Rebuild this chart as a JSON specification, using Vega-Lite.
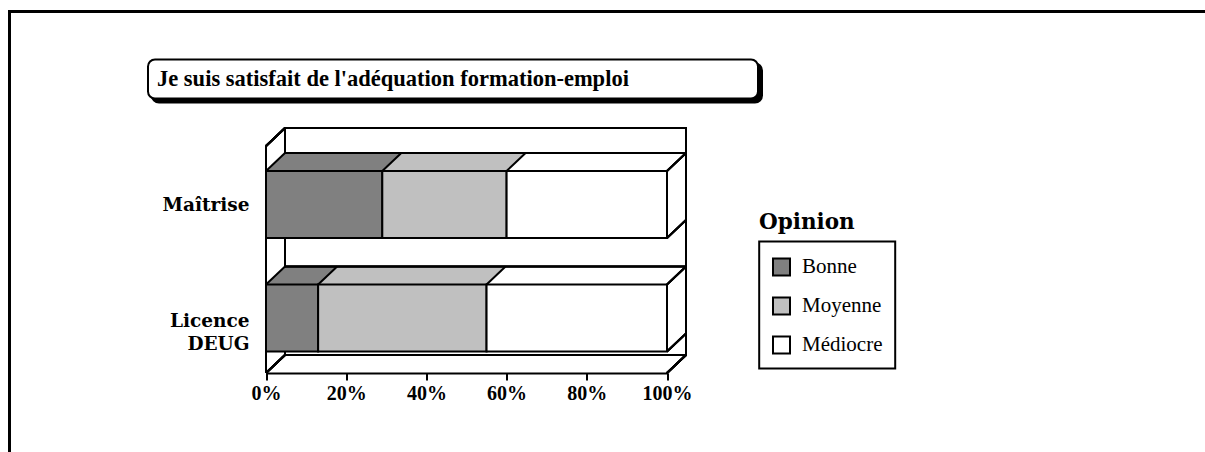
{
 "$schema": "https://vega.github.io/schema/vega-lite/v6.json",
 "autosize": "none",
 "padding": {"left": 9.5, "top": 11.5, "right": 0, "bottom": 0},
 "width": 1195.5,
 "height": 440.5,
 "background": "white",
 "title": {"text": "Je suis satisfait de l'adéquation formation-emploi", "anchor": "start", "frame": "group", "orient": "top", "offset": 0, "baseline": "alphabetic", "dx": 147.5, "dy": 96.8, "font": "Liberation Serif", "fontSize": 22.5, "fontWeight": "bold", "color": "black", "zindex": 3},
 "config": {
  "view": {"stroke": "black", "strokeWidth": 3, "strokeDash": [1636, 1636], "strokeDashOffset": 440.5, "fill": "white"},
  "legend": {"strokeWidth": 2},
  "axis": {"grid": false}
 },
 "data": {"values": [
  {"niveau": "Maîtrise", "opinion": "Bonne", "pct": 29},
  {"niveau": "Maîtrise", "opinion": "Moyenne", "pct": 31},
  {"niveau": "Maîtrise", "opinion": "Médiocre", "pct": 40},
  {"niveau": "Licence DEUG", "opinion": "Bonne", "pct": 13},
  {"niveau": "Licence DEUG", "opinion": "Moyenne", "pct": 42},
  {"niveau": "Licence DEUG", "opinion": "Médiocre", "pct": 45}
 ]},
 "transform": [{"stack": "pct", "groupby": ["niveau"], "sort": [{"field": "opinion", "order": "ascending"}], "offset": "normalize", "as": ["x0", "x1"]}],
 "layer": [
  {"mark": {"type": "rect", "fill": "transparent", "stroke": "black", "strokeWidth": 2, "xOffset": 19, "x2Offset": 19, "yOffset": -18, "y2Offset": -18},
   "encoding": {"x": {"datum": 0, "type": "quantitative"}, "x2": {"datum": 1}, "y": {"datum": "Maîtrise", "type": "nominal", "bandPosition": -0.3731}, "y2": {"datum": "Licence DEUG", "bandPosition": 1.3209}}},
  {"mark": {"type": "rule", "color": "black", "strokeWidth": 2, "x2Offset": 19, "y2Offset": -18},
   "encoding": {"x": {"datum": 0, "type": "quantitative"}, "x2": {"datum": 0}, "y": {"datum": "Maîtrise", "type": "nominal", "bandPosition": -0.3731}, "y2": {"datum": "Maîtrise", "bandPosition": -0.3731}}},
  {"mark": {"type": "rule", "color": "black", "strokeWidth": 2},
   "encoding": {"x": {"datum": 0, "type": "quantitative"}, "y": {"datum": "Maîtrise", "type": "nominal", "bandPosition": -0.3731}, "y2": {"datum": "Licence DEUG", "bandPosition": 1.3209}}},
  {"mark": {"type": "rule", "color": "black", "strokeWidth": 2, "x2Offset": 19, "y2Offset": -18},
   "encoding": {"x": {"datum": 0, "type": "quantitative"}, "x2": {"datum": 0}, "y": {"datum": "Licence DEUG", "type": "nominal", "bandPosition": 1.3209}, "y2": {"datum": "Licence DEUG", "bandPosition": 1.3209}}},
  {"mark": {"type": "rule", "color": "black", "strokeWidth": 2, "x2Offset": 19, "y2Offset": -18},
   "encoding": {"x": {"datum": 1, "type": "quantitative"}, "x2": {"datum": 1}, "y": {"datum": "Licence DEUG", "type": "nominal", "bandPosition": 1.3209}, "y2": {"datum": "Licence DEUG", "bandPosition": 1.3209}}},
  {"mark": {"type": "rect", "xOffset": 19, "x2Offset": 19, "yOffset": -18, "y2Offset": -18}, "encoding": {"x": {"field": "x0", "type": "quantitative"}, "x2": {"field": "x1"}, "y": {"field": "niveau", "type": "nominal"}, "color": {"field": "opinion", "type": "nominal"}}},
  {"mark": {"type": "rect", "xOffset": 18, "x2Offset": 18, "yOffset": -17.05, "y2Offset": -17.05}, "encoding": {"x": {"field": "x0", "type": "quantitative"}, "x2": {"field": "x1"}, "y": {"field": "niveau", "type": "nominal"}, "color": {"field": "opinion", "type": "nominal"}}},
  {"mark": {"type": "rect", "xOffset": 17, "x2Offset": 17, "yOffset": -16.11, "y2Offset": -16.11}, "encoding": {"x": {"field": "x0", "type": "quantitative"}, "x2": {"field": "x1"}, "y": {"field": "niveau", "type": "nominal"}, "color": {"field": "opinion", "type": "nominal"}}},
  {"mark": {"type": "rect", "xOffset": 16, "x2Offset": 16, "yOffset": -15.16, "y2Offset": -15.16}, "encoding": {"x": {"field": "x0", "type": "quantitative"}, "x2": {"field": "x1"}, "y": {"field": "niveau", "type": "nominal"}, "color": {"field": "opinion", "type": "nominal"}}},
  {"mark": {"type": "rect", "xOffset": 15, "x2Offset": 15, "yOffset": -14.21, "y2Offset": -14.21}, "encoding": {"x": {"field": "x0", "type": "quantitative"}, "x2": {"field": "x1"}, "y": {"field": "niveau", "type": "nominal"}, "color": {"field": "opinion", "type": "nominal"}}},
  {"mark": {"type": "rect", "xOffset": 14, "x2Offset": 14, "yOffset": -13.26, "y2Offset": -13.26}, "encoding": {"x": {"field": "x0", "type": "quantitative"}, "x2": {"field": "x1"}, "y": {"field": "niveau", "type": "nominal"}, "color": {"field": "opinion", "type": "nominal"}}},
  {"mark": {"type": "rect", "xOffset": 13, "x2Offset": 13, "yOffset": -12.32, "y2Offset": -12.32}, "encoding": {"x": {"field": "x0", "type": "quantitative"}, "x2": {"field": "x1"}, "y": {"field": "niveau", "type": "nominal"}, "color": {"field": "opinion", "type": "nominal"}}},
  {"mark": {"type": "rect", "xOffset": 12, "x2Offset": 12, "yOffset": -11.37, "y2Offset": -11.37}, "encoding": {"x": {"field": "x0", "type": "quantitative"}, "x2": {"field": "x1"}, "y": {"field": "niveau", "type": "nominal"}, "color": {"field": "opinion", "type": "nominal"}}},
  {"mark": {"type": "rect", "xOffset": 11, "x2Offset": 11, "yOffset": -10.42, "y2Offset": -10.42}, "encoding": {"x": {"field": "x0", "type": "quantitative"}, "x2": {"field": "x1"}, "y": {"field": "niveau", "type": "nominal"}, "color": {"field": "opinion", "type": "nominal"}}},
  {"mark": {"type": "rect", "xOffset": 10, "x2Offset": 10, "yOffset": -9.47, "y2Offset": -9.47}, "encoding": {"x": {"field": "x0", "type": "quantitative"}, "x2": {"field": "x1"}, "y": {"field": "niveau", "type": "nominal"}, "color": {"field": "opinion", "type": "nominal"}}},
  {"mark": {"type": "rect", "xOffset": 9, "x2Offset": 9, "yOffset": -8.53, "y2Offset": -8.53}, "encoding": {"x": {"field": "x0", "type": "quantitative"}, "x2": {"field": "x1"}, "y": {"field": "niveau", "type": "nominal"}, "color": {"field": "opinion", "type": "nominal"}}},
  {"mark": {"type": "rect", "xOffset": 8, "x2Offset": 8, "yOffset": -7.58, "y2Offset": -7.58}, "encoding": {"x": {"field": "x0", "type": "quantitative"}, "x2": {"field": "x1"}, "y": {"field": "niveau", "type": "nominal"}, "color": {"field": "opinion", "type": "nominal"}}},
  {"mark": {"type": "rect", "xOffset": 7, "x2Offset": 7, "yOffset": -6.63, "y2Offset": -6.63}, "encoding": {"x": {"field": "x0", "type": "quantitative"}, "x2": {"field": "x1"}, "y": {"field": "niveau", "type": "nominal"}, "color": {"field": "opinion", "type": "nominal"}}},
  {"mark": {"type": "rect", "xOffset": 6, "x2Offset": 6, "yOffset": -5.68, "y2Offset": -5.68}, "encoding": {"x": {"field": "x0", "type": "quantitative"}, "x2": {"field": "x1"}, "y": {"field": "niveau", "type": "nominal"}, "color": {"field": "opinion", "type": "nominal"}}},
  {"mark": {"type": "rect", "xOffset": 5, "x2Offset": 5, "yOffset": -4.74, "y2Offset": -4.74}, "encoding": {"x": {"field": "x0", "type": "quantitative"}, "x2": {"field": "x1"}, "y": {"field": "niveau", "type": "nominal"}, "color": {"field": "opinion", "type": "nominal"}}},
  {"mark": {"type": "rect", "xOffset": 4, "x2Offset": 4, "yOffset": -3.79, "y2Offset": -3.79}, "encoding": {"x": {"field": "x0", "type": "quantitative"}, "x2": {"field": "x1"}, "y": {"field": "niveau", "type": "nominal"}, "color": {"field": "opinion", "type": "nominal"}}},
  {"mark": {"type": "rect", "xOffset": 3, "x2Offset": 3, "yOffset": -2.84, "y2Offset": -2.84}, "encoding": {"x": {"field": "x0", "type": "quantitative"}, "x2": {"field": "x1"}, "y": {"field": "niveau", "type": "nominal"}, "color": {"field": "opinion", "type": "nominal"}}},
  {"mark": {"type": "rect", "xOffset": 2, "x2Offset": 2, "yOffset": -1.89, "y2Offset": -1.89}, "encoding": {"x": {"field": "x0", "type": "quantitative"}, "x2": {"field": "x1"}, "y": {"field": "niveau", "type": "nominal"}, "color": {"field": "opinion", "type": "nominal"}}},
  {"mark": {"type": "rect", "xOffset": 1, "x2Offset": 1, "yOffset": -0.95, "y2Offset": -0.95}, "encoding": {"x": {"field": "x0", "type": "quantitative"}, "x2": {"field": "x1"}, "y": {"field": "niveau", "type": "nominal"}, "color": {"field": "opinion", "type": "nominal"}}},
  {"mark": {"type": "rect", "stroke": "black", "strokeWidth": 2},
   "encoding": {
    "x": {"field": "x0", "type": "quantitative", "scale": {"type": "linear", "domain": [0, 1], "range": [256.5, 657.5], "nice": false, "zero": false},
     "axis": {"orient": "bottom", "offset": -79, "title": null, "values": [0, 0.2, 0.4, 0.6, 0.8, 1], "format": ".0%", "domain": true, "domainColor": "black", "domainWidth": 2, "ticks": true, "tickColor": "black", "tickWidth": 2, "tickSize": 7, "labelFont": "Liberation Serif", "labelFontSize": 20, "labelFontWeight": "bold", "labelColor": "black", "labelPadding": 3, "labelFlush": false, "labelOverlap": false, "grid": false}},
    "x2": {"field": "x1"},
    "y": {"field": "niveau", "type": "nominal", "scale": {"type": "band", "domain": ["Maîtrise", "Licence DEUG"], "range": [136.25, 363.25], "paddingInner": 0.4097, "paddingOuter": 0.2048, "round": false},
     "axis": {"orient": "left", "offset": -256.5, "title": null, "domain": false, "ticks": false, "grid": false, "labelFont": "DejaVu Serif", "labelFontSize": 18.5, "labelFontWeight": "bold", "labelColor": "black", "labelPadding": 17, "labelLineHeight": 22.5, "labelAlign": "right", "labelBaseline": "middle", "labelExpr": "datum.value === 'Licence DEUG' ? ['Licence', 'DEUG'] : datum.label", "labelOffset": {"condition": {"test": "datum.value === 'Licence DEUG'", "value": 3}, "value": 1}}},
    "color": {"field": "opinion", "type": "nominal", "scale": {"domain": ["Bonne", "Moyenne", "Médiocre"], "range": ["#808080", "#c0c0c0", "#ffffff"]},
     "legend": {"orient": "none", "legendX": 749.5, "legendY": 200, "title": "Opinion", "titleFont": "DejaVu Serif", "titleFontSize": 21.5, "titleFontWeight": "bold", "titleColor": "black", "titlePadding": 23.5, "padding": 0, "symbolType": "square", "symbolSize": 289, "symbolStrokeColor": "black", "symbolStrokeWidth": 2, "symbolOffset": 12, "labelFont": "Liberation Serif", "labelFontSize": 21, "labelColor": "black", "labelOffset": 10, "rowPadding": 14}}
   }},
  {"mark": {"type": "rule", "color": "black", "strokeWidth": 2, "xOffset": 19, "x2Offset": 19, "yOffset": -18},
   "encoding": {"x": {"datum": 0, "type": "quantitative"}, "x2": {"datum": 1}, "y": {"field": "niveau", "type": "nominal", "bandPosition": 0}}},
  {"mark": {"type": "rule", "color": "black", "strokeWidth": 2, "x2Offset": 19, "y2Offset": -18},
   "encoding": {"x": {"field": "x0", "type": "quantitative"}, "x2": {"field": "x0"}, "y": {"field": "niveau", "type": "nominal", "bandPosition": 0}, "y2": {"field": "niveau", "bandPosition": 0}}},
  {"mark": {"type": "rule", "color": "black", "strokeWidth": 2, "x2Offset": 19, "y2Offset": -18},
   "encoding": {"x": {"datum": 1, "type": "quantitative"}, "x2": {"datum": 1}, "y": {"field": "niveau", "type": "nominal", "bandPosition": 0}, "y2": {"field": "niveau", "bandPosition": 0}}},
  {"mark": {"type": "rule", "color": "black", "strokeWidth": 2, "x2Offset": 19, "y2Offset": -18},
   "encoding": {"x": {"datum": 1, "type": "quantitative"}, "x2": {"datum": 1}, "y": {"field": "niveau", "type": "nominal", "bandPosition": 1}, "y2": {"field": "niveau", "bandPosition": 1}}},
  {"mark": {"type": "rule", "color": "black", "strokeWidth": 2, "xOffset": 19, "yOffset": -18, "y2Offset": -18},
   "encoding": {"x": {"datum": 1, "type": "quantitative"}, "y": {"field": "niveau", "type": "nominal", "bandPosition": 0}, "y2": {"field": "niveau", "bandPosition": 1}}},
  {"mark": {"type": "point", "opacity": 0, "filled": true},
   "encoding": {
    "shape": {"datum": "titre", "type": "nominal", "legend": {"orient": "none", "legendX": 138.5, "legendY": 48, "title": null, "padding": 0, "fillColor": "white", "strokeColor": "black", "cornerRadius": 7, "symbolType": "square", "symbolSize": 1482, "symbolStrokeWidth": 0, "symbolOpacity": 0, "labelExpr": "''", "labelFontSize": 1, "labelOffset": 570.5, "zindex": 2}},
    "stroke": {"datum": "ombre", "type": "nominal", "legend": {"orient": "none", "legendX": 142.5, "legendY": 52, "title": null, "padding": 0, "fillColor": "black", "strokeColor": "black", "cornerRadius": 7, "symbolType": "square", "symbolSize": 1482, "symbolStrokeWidth": 0, "symbolOpacity": 0, "labelExpr": "''", "labelFontSize": 1, "labelOffset": 570.5, "zindex": 1}},
    "strokeDash": {"datum": "cadre", "type": "nominal", "legend": {"orient": "none", "legendX": 749.7, "legendY": 230, "title": null, "padding": 0, "strokeColor": "black", "symbolType": "square", "symbolSize": 16002, "symbolStrokeWidth": 0, "symbolOpacity": 0, "labelExpr": "''", "labelFontSize": 1, "labelOffset": 8.5}}
   }}
 ]
}
